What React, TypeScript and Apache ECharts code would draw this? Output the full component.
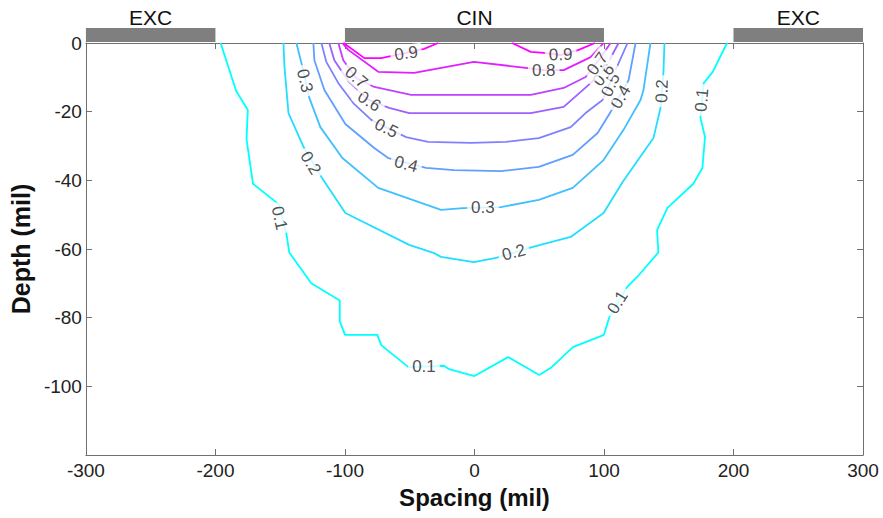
import React, { useEffect, useRef } from "react";
import * as echarts from "echarts";

// ---- data (x = spacing in mil, y = depth in mil) ----
const levels = [0.1, 0.2, 0.3, 0.4, 0.5, 0.6, 0.7, 0.8, 0.9];

const c01 = [[-196,0],[-184,-14],[-175,-19.5],[-176,-28],[-171,-41],[-151,-47],[-145,-56],[-143,-61],[-126,-70],[-104,-75],[-104,-81],[-100,-85],[-75,-85],[-72,-88],[-51,-94.4],[-23.5,-94],[-19.6,-95],[0,-97],[26,-91.5],[50,-96.7],[59,-94.6],[76,-88.6],[100,-85],[104,-80],[118,-71],[126,-68],[142,-61],[141,-54.5],[149,-48],[169,-41],[176,-36.4],[178,-27.4],[174.5,-21.8],[177,-11.7],[184,-8.4],[195,0]];
const c02 = [[-147.5,0],[-146.7,-7],[-143.6,-20.4],[-131.9,-30.3],[-118.2,-39],[-99.7,-49.5],[-50.4,-58.8],[-31.2,-61.2],[-25.8,-62.3],[-0.4,-63.8],[16.6,-62.6],[45.1,-59.4],[74.3,-56.5],[99.7,-49.5],[114.4,-40.5],[138.2,-27.7],[143.6,-19],[145.9,-8.7],[146.7,0]];
const c03 = [[-137.5,0],[-133.6,-5.8],[-127.5,-16],[-119,-24.5],[-102,-33.5],[-74.3,-42.2],[-25.8,-48.6],[-8.9,-48.1],[20.4,-47.8],[49.7,-45.7],[75.9,-42.2],[99.7,-34.1],[115.1,-25.3],[128.2,-16.6],[130.5,-13.7],[135.9,0]];
const c04 = [[-124.4,0],[-123.6,-5],[-115.9,-13.7],[-99.7,-23.6],[-77.4,-30.6],[-66.6,-33.5],[-37.4,-36.4],[-15.8,-37],[20.4,-37.3],[49.7,-36.1],[75.9,-32.6],[95.1,-26.2],[105.1,-20.1],[119,-10.8],[124.4,0]];
const c05 = [[-118.2,0],[-114.4,-5.5],[-105.1,-11.7],[-93.6,-17.5],[-79.7,-22.4],[-52.8,-27.4],[-35.8,-28.8],[-2.7,-29.1],[24.3,-28.8],[49.7,-27.7],[74.3,-24.5],[85.8,-20.4],[98.9,-16.6],[108.9,-7.9],[118.2,0]];
const c06 = [[-112.1,0],[-108.2,-5],[-96.7,-11.4],[-82,-16.5],[-65.9,-18.9],[-50.4,-20.4],[43.5,-20.4],[68.9,-18.6],[89.7,-11.7],[101.3,-7],[111.3,0]];
const c07 = [[-105.1,0],[-101.3,-5],[-91.3,-10.2],[-77.4,-12.8],[-48.9,-15.1],[43.5,-15.1],[68.9,-13.1],[85.8,-9.9],[95.9,-5],[105.1,0]];
const c08 = [[-102,0],[-97.4,-2],[-74.3,-8.4],[-46.6,-8.7],[-0.4,-5.5],[41.2,-7.3],[53.5,-7.9],[68.9,-7.9],[89.7,-4.1],[99.7,0]];
const c09left = [[-101,0],[-85,-4.4],[-72,-4.4],[-52.8,-2.9],[-38.9,-1.7],[-28,0]];
const c09right = [[29,0],[43.5,-2.6],[53.5,-2.9],[66.6,-3.5],[80.5,-2],[93,0]];

// contour label anchors: [level, x, y]
const contourLabels = [
  [0.1, -150.6, -51], [0.1, -39, -94.2], [0.1, 110.5, -75.5], [0.1, 175.6, -16.6],
  [0.2, -126.5, -35], [0.2, 30.4, -61], [0.2, 144.8, -14],
  [0.3, -131, -11], [0.3, 6.5, -48],
  [0.4, -52.8, -35.3], [0.4, 112.8, -15.7],
  [0.5, -68, -24.8], [0.5, 105, -12.2],
  [0.6, -81.3, -17], [0.6, 99.7, -9.3],
  [0.7, -91.3, -10], [0.7, 95, -6],
  [0.8, 53.5, -7.9],
  [0.9, -52.8, -3], [0.9, 66.6, -3.4],
];

// electrode bars above the plot: [from, to]
const electrodes = [[-300, -200], [-100, 100], [200, 300]];
const electrodeNames = ["EXC", "CIN", "EXC"];

const xTicks = { min: -300, max: 300, step: 100 };
const yTicks = { min: -120, max: 0, step: 20 };

// ---- styling ----
const labelAngles = [-77, 0, 58, 85, -59, 15, 88, -77, 0, -15, 60, -26, 66, -33, 50, -41, 54, 0, 8, 2];

const FONT = "'Liberation Sans', Arial, Helvetica, sans-serif";

function coolColor(v: number) {
  const t = (v - 0.1) / 0.8;
  return `rgb(${Math.round(255 * t)},${Math.round(255 * (1 - t))},255)`;
}

export default function App() {
  const ref = useRef<HTMLDivElement>(null);

  useEffect(() => {
    if (!ref.current) return;
    const chart = echarts.init(ref.current, null, { renderer: "svg" });

    const contourSets: [number, number[][]][] = [
      [0.1, c01], [0.2, c02], [0.3, c03], [0.4, c04], [0.5, c05],
      [0.6, c06], [0.7, c07], [0.8, c08], [0.9, c09left], [0.9, c09right],
    ];

    const lineSeries = contourSets.map(([lv, pts]) => ({
      type: "line",
      data: pts,
      xAxisIndex: 0,
      yAxisIndex: 0,
      symbol: "none",
      showSymbol: false,
      silent: true,
      z: 2,
      lineStyle: { color: coolColor(lv), width: 1.8 },
    }));

    const labelSeries = {
      type: "scatter",
      xAxisIndex: 0,
      yAxisIndex: 0,
      symbol: "circle",
      symbolSize: 1,
      silent: true,
      z: 10,
      itemStyle: { color: "rgba(255,255,255,0)" },
      data: contourLabels.map((c, i) => ({
        value: [c[1], c[2]],
        name: String(c[0]),
        label: { rotate: labelAngles[i] },
      })),
      label: {
        show: true,
        position: "inside",
        align: "center",
        verticalAlign: "middle",
        formatter: (p: any) => p.name,
        fontFamily: FONT,
        fontSize: 17,
        color: "#222",
        backgroundColor: "#fff",
        padding: [0, 4],
      },
      labelLayout: { hideOverlap: false },
    };

    const electrodeSeries = {
      type: "custom",
      xAxisIndex: 0,
      yAxisIndex: 0,
      clip: false,
      silent: true,
      z: 20,
      encode: { x: [0, 1], y: 2 },
      data: electrodes.map((e) => [e[0], e[1], 0]),
      renderItem: (params: any, api: any) => {
        const p0 = api.coord([api.value(0), 0]);
        const p1 = api.coord([api.value(1), 0]);
        const top = p0[1];
        return {
          type: "group",
          children: [
            {
              type: "rect",
              shape: { x: p0[0], y: top - 15, width: p1[0] - p0[0], height: 14 },
              style: { fill: "#7f7f7f" },
            },
            {
              type: "text",
              style: {
                text: electrodeNames[params.dataIndex],
                x: (p0[0] + p1[0]) / 2,
                y: top - 26,
                align: "center",
                verticalAlign: "middle",
                fontFamily: FONT,
                fontSize: 21,
                fill: "#111",
              },
            },
          ],
        };
      },
    };

    const axisLine = { show: true, onZero: false, lineStyle: { color: "#707070", width: 1 } };
    const axisTick = { show: true, inside: true, length: 6, lineStyle: { color: "#707070" } };

    chart.setOption({
      animation: false,
      backgroundColor: "#fff",
      grid: { left: 84, right: 20, top: 43, bottom: 63, containLabel: false },
      xAxis: [
        {
          type: "value",
          min: xTicks.min,
          max: xTicks.max,
          interval: xTicks.step,
          position: "bottom",
          axisLine,
          axisTick,
          splitLine: { show: false },
          axisLabel: { fontFamily: FONT, fontSize: 19, color: "#222", margin: 6 },
          name: "Spacing (mil)",
          nameLocation: "middle",
          nameGap: 30,
          nameTextStyle: { fontFamily: FONT, fontSize: 24, fontWeight: "bold", color: "#111" },
        },
        {
          type: "value",
          min: xTicks.min,
          max: xTicks.max,
          interval: xTicks.step,
          position: "top",
          axisLine,
          axisTick,
          splitLine: { show: false },
          axisLabel: { show: false },
        },
      ],
      yAxis: [
        {
          type: "value",
          min: yTicks.min,
          max: yTicks.max,
          interval: yTicks.step,
          position: "left",
          axisLine,
          axisTick,
          splitLine: { show: false },
          axisLabel: {
            fontFamily: FONT,
            fontSize: 19,
            color: "#222",
            margin: 4,
            formatter: (v: number) => (v === yTicks.min ? "" : String(v)),
          },
          name: "Depth (mil)",
          nameLocation: "middle",
          nameGap: 48,
          nameTextStyle: { fontFamily: FONT, fontSize: 25, fontWeight: "bold", color: "#111" },
        },
        {
          type: "value",
          min: yTicks.min,
          max: yTicks.max,
          interval: yTicks.step,
          position: "right",
          axisLine,
          axisTick,
          splitLine: { show: false },
          axisLabel: { show: false },
        },
      ],
      series: [...lineSeries, labelSeries, electrodeSeries],
    });

    return () => chart.dispose();
  }, []);

  return (
    <div
      ref={ref}
      style={{ position: "fixed", left: 0, top: 0, width: 883, height: 518, background: "#fff" }}
    />
  );
}
